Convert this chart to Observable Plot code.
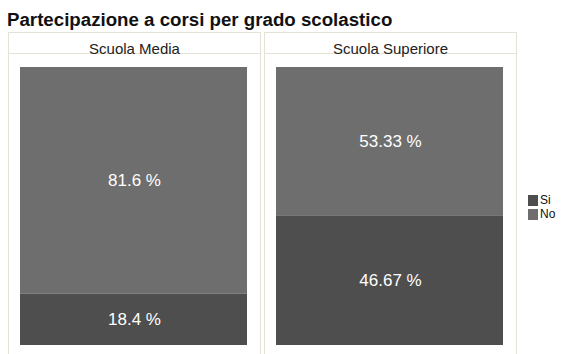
<!DOCTYPE html>
<html>
<head>
<meta charset="utf-8">
<script src="https://cdn.jsdelivr.net/npm/d3@7"></script>
<script src="https://cdn.jsdelivr.net/npm/@observablehq/plot@0.6"></script>
<style>
  html, body { margin: 0; padding: 0; background: #fff; }
  body { width: 561px; height: 354px; position: relative; overflow: hidden; font-family: "Liberation Sans", Arial, sans-serif; }
  #title { position: absolute; left: 7px; top: 9px; font-weight: bold; font-size: 18.7px; color: #111; white-space: nowrap; line-height: normal; }
  #chart { position: absolute; left: 0; top: 30px; }
  #legend { position: absolute; left: 528px; top: 194px; font-size: 12px; color: #111; }
  .row { display: flex; align-items: center; height: 13.5px; line-height: 13.5px; }
  .sw { width: 10px; height: 11px; margin-right: 2px; }
</style>
</head>
<body>
<div id="title">Partecipazione a corsi per grado scolastico</div>
<div id="chart"></div>
<div id="legend"></div>
<script>
const grades = ["Scuola Media", "Scuola Superiore"];
const answers = ["Si", "No"];
const siPct = [18.4, 46.67];
const noPct = [81.6, 53.33];
const colors = ["#4e4e4e", "#6e6e6e"];

const rows = [];
grades.forEach((g, i) => {
  rows.push({grado: g, risposta: answers[0], pct: siPct[i]});
  rows.push({grado: g, risposta: answers[1], pct: noPct[i]});
});

const W = 561, H = 324;
const borderColor = "#e5e2d6";

const chart = Plot.plot({
  width: W,
  height: H,
  marginLeft: 8,
  marginRight: 44,
  marginTop: 2,
  marginBottom: 0,
  style: {fontFamily: "'Liberation Sans', Arial, sans-serif", background: "transparent"},
  fx: {domain: grades, paddingInner: 0.0156, paddingOuter: 0, axis: null},
  y: {domain: [0, 100], range: [315, 37], axis: null},
  x: {axis: null},
  color: {domain: answers, range: colors},
  marks: [
    Plot.frame({stroke: borderColor, insetBottom: -5}),
    Plot.frame({stroke: borderColor, insetBottom: H - 2 - 21}),
    Plot.text(grades, {fx: d => d, text: d => d, frameAnchor: "top", dy: 10.5, fontSize: 15, fill: "#222"}),
    Plot.barY(rows, {fx: "grado", y: "pct", fill: "risposta", insetLeft: 12, insetRight: 13}),
    Plot.text(rows, Plot.stackY({fx: "grado", y: "pct", text: d => `${d.pct} %`, fill: "white", fontSize: 17}))
  ]
});
document.getElementById("chart").appendChild(chart);

const legend = document.getElementById("legend");
answers.forEach((a, i) => {
  const row = document.createElement("div");
  row.className = "row";
  const sw = document.createElement("div");
  sw.className = "sw";
  sw.style.background = colors[i];
  const t = document.createElement("span");
  t.textContent = a;
  row.appendChild(sw);
  row.appendChild(t);
  legend.appendChild(row);
});
</script>
</body>
</html>
